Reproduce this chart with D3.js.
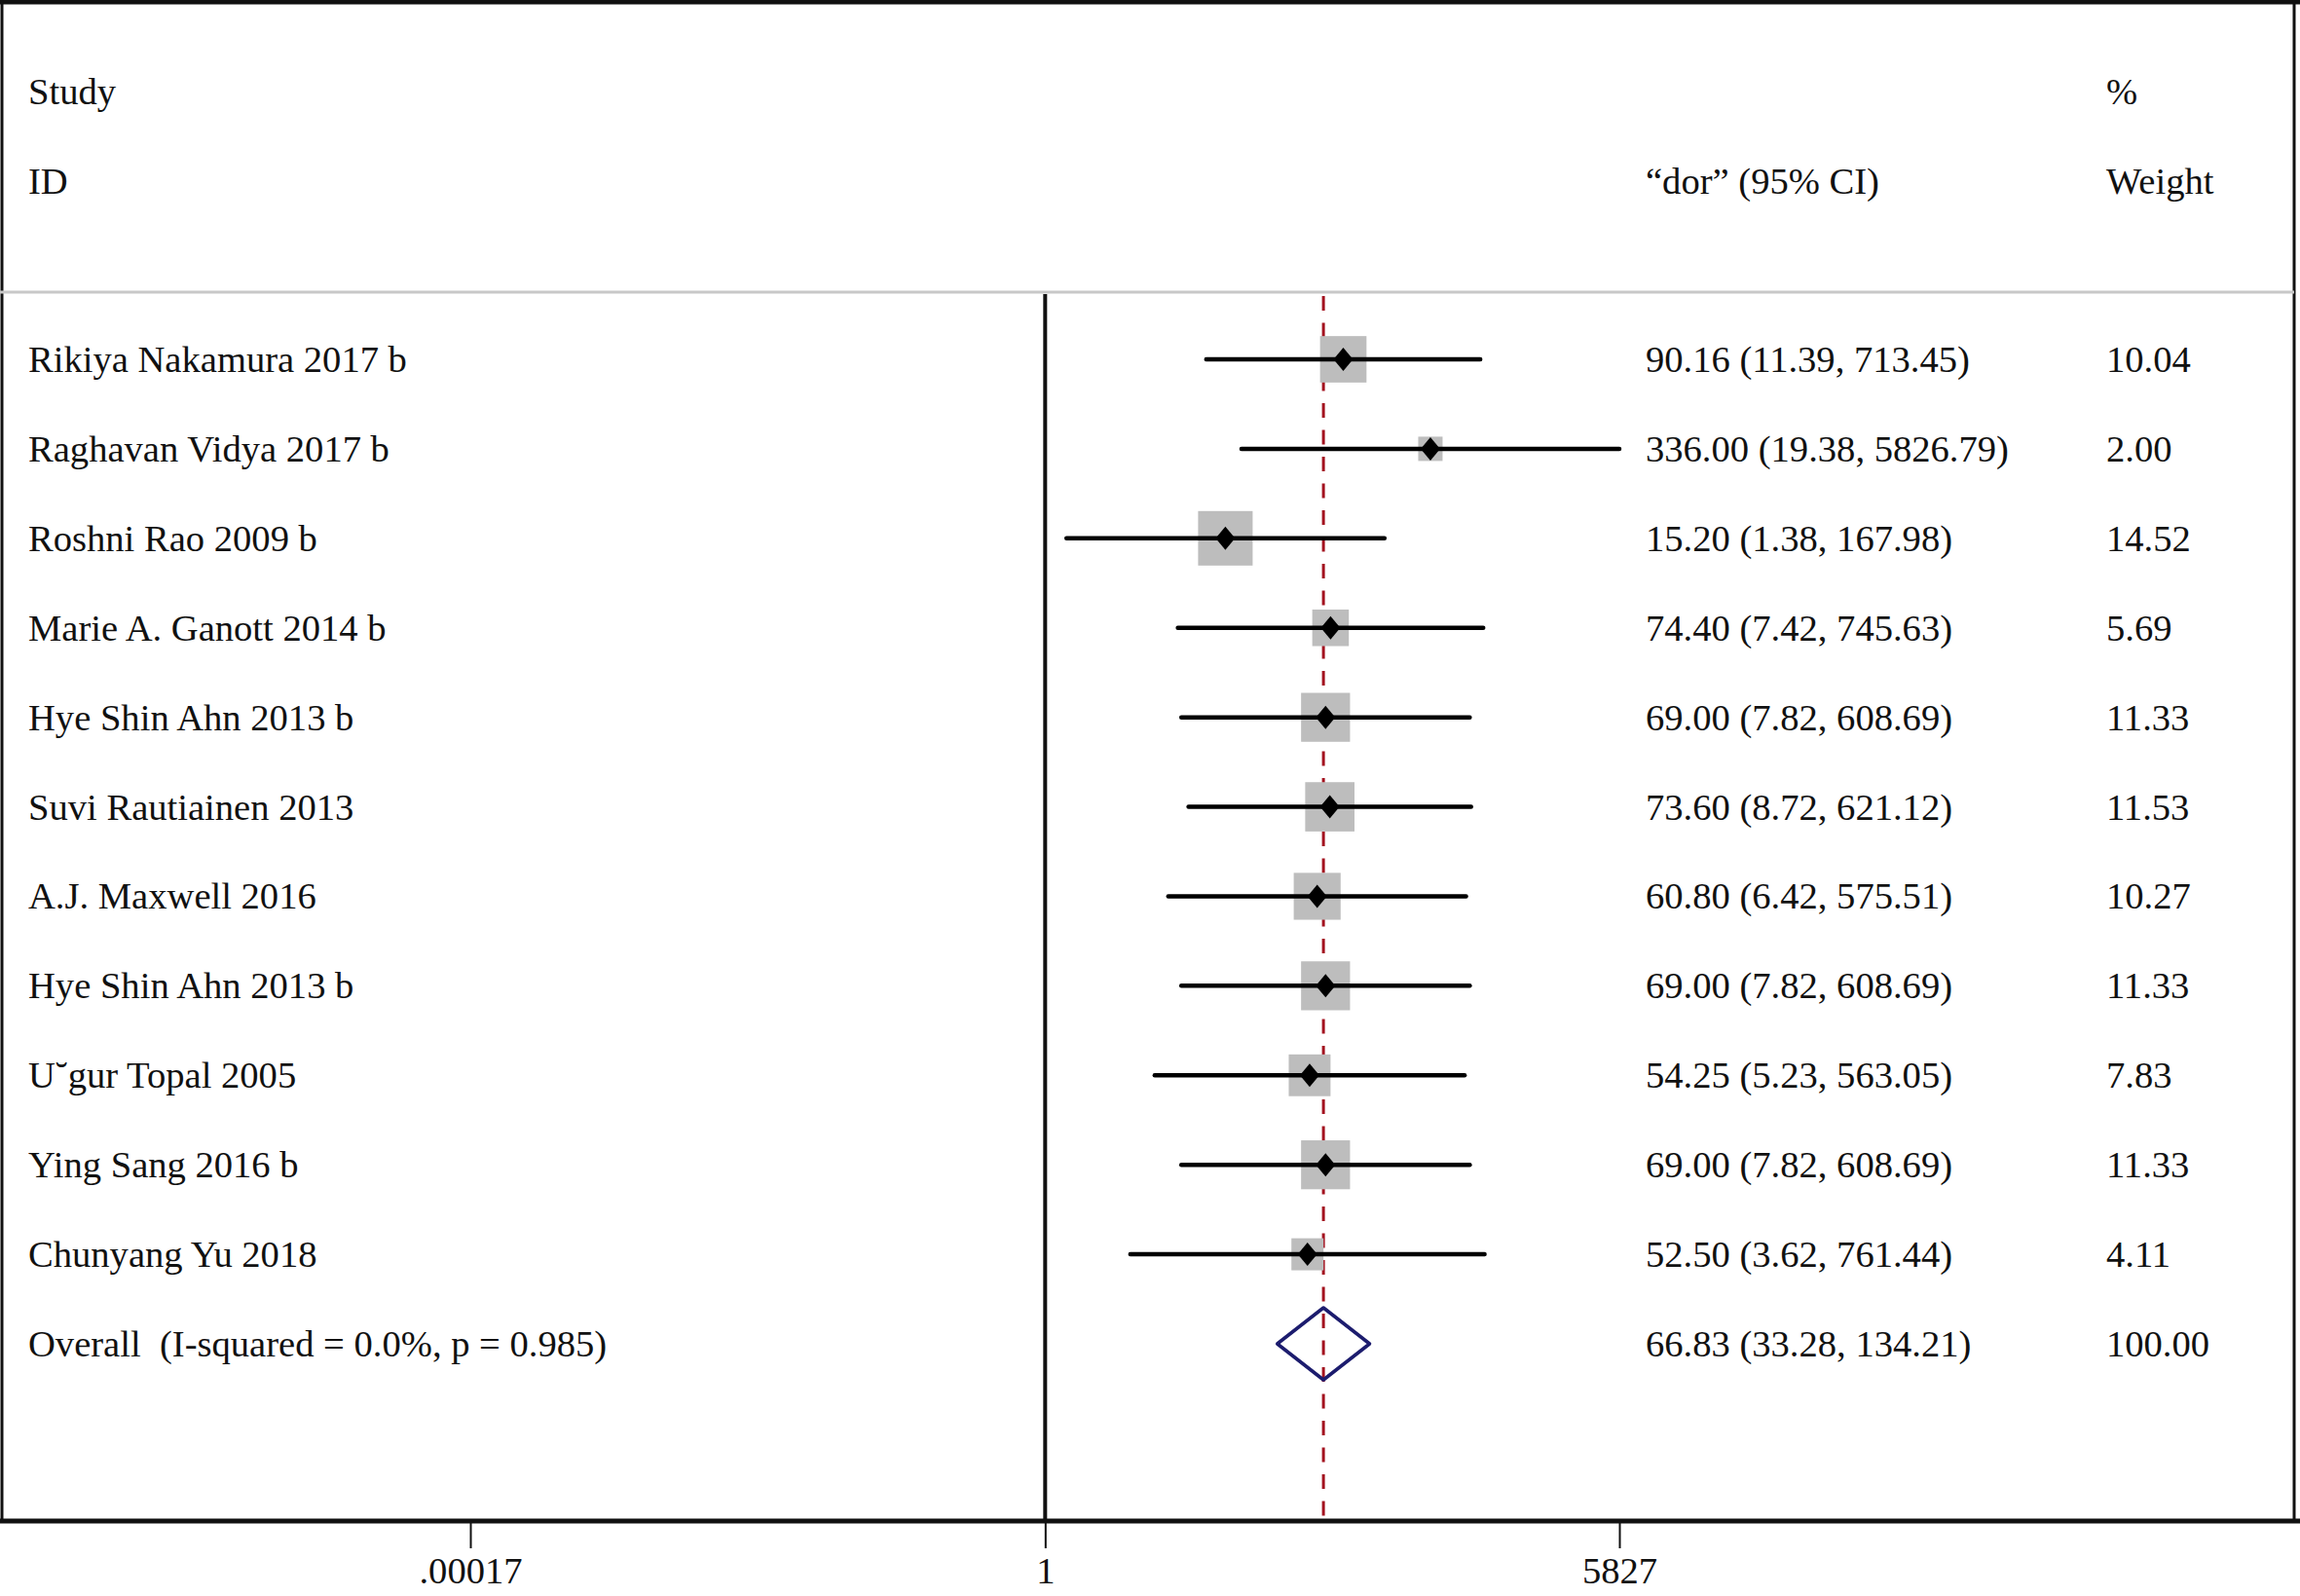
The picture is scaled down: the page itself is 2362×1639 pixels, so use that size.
<!DOCTYPE html>
<html>
<head>
<meta charset="utf-8">
<script src="https://cdn.jsdelivr.net/npm/d3@7"></script>
<style>
  body { margin: 0; background: #fff; }
  svg { display: block; }
  text { font-family: "Liberation Serif", "Times New Roman", serif; fill: #111; white-space: pre; }
</style>
</head>
<body>
<svg id="forest"></svg>
<script>
// study data
const studies = [
    "Rikiya Nakamura 2017 b",
    "Raghavan Vidya 2017 b",
    "Roshni Rao 2009 b",
    "Marie A. Ganott 2014 b",
    "Hye Shin Ahn 2013 b",
    "Suvi Rautiainen 2013",
    "A.J. Maxwell 2016",
    "Hye Shin Ahn 2013 b",
    "U\u02D8gur Topal 2005",
    "Ying Sang 2016 b",
    "Chunyang Yu 2018"
];
const dor     = [90.16, 336.00, 15.20, 74.40, 69.00, 73.60, 60.80, 69.00, 54.25, 69.00, 52.50];
const lower   = [11.39, 19.38, 1.38, 7.42, 7.82, 8.72, 6.42, 7.82, 5.23, 7.82, 3.62];
const upper   = [713.45, 5826.79, 167.98, 745.63, 608.69, 621.12, 575.51, 608.69, 563.05, 608.69, 761.44];
const weights = [10.04, 2.00, 14.52, 5.69, 11.33, 11.53, 10.27, 11.33, 7.83, 11.33, 4.11];

const overallLabel = "Overall  (I-squared = 0.0%, p = 0.985)";
const overall = {est: 66.83, lo: 33.28, hi: 134.21, weight: 100.00};

const tickValues = [0.00017, 1, 5827];
const tickLabels = [".00017", "1", "5827"];

const W = 2362, H = 1639;
const FS = 38.6;
const xText = 29, xCI = 1690, xWeight = 2163;
const headTop = 300, axisY = 1562;

const svg = d3.select("#forest").attr("width", W).attr("height", H);
svg.append("rect").attr("width", W).attr("height", H).attr("fill", "#fff");

//scales
const xScale = d3.scaleLog().domain([0.00017, 5827]).range([483, 1663]);
const yScale = d3.scaleLinear().domain([0, studies.length]).range([369, 1380]);
const boxSize = d3.scalePow().exponent(0.5).domain([2, 14.52]).range([25, 56]);

const fmt = d3.format(".2f");

//frame
svg.append("line").attr("x1", 0).attr("x2", W).attr("y1", 2).attr("y2", 2)
    .attr("stroke", "#111").attr("stroke-width", 5);
svg.append("line").attr("x1", 2).attr("x2", 2).attr("y1", 0).attr("y2", axisY)
    .attr("stroke", "#111").attr("stroke-width", 3);
svg.append("line").attr("x1", 2356).attr("x2", 2356).attr("y1", 0).attr("y2", axisY)
    .attr("stroke", "#111").attr("stroke-width", 3);
svg.append("line").attr("x1", 0).attr("x2", 2356).attr("y1", headTop).attr("y2", headTop)
    .attr("stroke", "#c8c8c8").attr("stroke-width", 3);

//header texts
const header = svg.append("g").attr("font-size", FS);
header.append("text").attr("x", xText).attr("y", 107).text("Study");
header.append("text").attr("x", xText).attr("y", 199).text("ID");
header.append("text").attr("x", xCI).attr("y", 199).text("\u201Cdor\u201D (95% CI)");
header.append("text").attr("x", xWeight).attr("y", 107).text("%");
header.append("text").attr("x", xWeight).attr("y", 199).text("Weight");

//null line and overall line
svg.append("line")
    .attr("x1", xScale(1)).attr("x2", xScale(1))
    .attr("y1", headTop + 2).attr("y2", axisY)
    .attr("stroke", "#111").attr("stroke-width", 4);
svg.append("line")
    .attr("x1", xScale(overall.est)).attr("x2", xScale(overall.est))
    .attr("y1", headTop + 4).attr("y2", axisY)
    .attr("stroke", "#a3121f").attr("stroke-width", 3)
    .attr("stroke-dasharray", "15,12.5");

//study rows
const rows = svg.append("g").selectAll("g").data(studies).join("g")
    .attr("transform", (d, i) => `translate(0,${yScale(i)})`);

rows.append("rect")
    .attr("x", (d, i) => xScale(dor[i]) - boxSize(weights[i]) / 2)
    .attr("y", (d, i) => -boxSize(weights[i]) / 2)
    .attr("width", (d, i) => boxSize(weights[i]))
    .attr("height", (d, i) => boxSize(weights[i]))
    .attr("fill", "#bdbdbd");

rows.append("line")
    .attr("x1", (d, i) => xScale(lower[i]))
    .attr("x2", (d, i) => xScale(upper[i]))
    .attr("stroke", "#000").attr("stroke-width", 4.5)
    .attr("stroke-linecap", "round");

rows.append("path")
    .attr("d", (d, i) => {
        const cx = xScale(dor[i]);
        return `M${cx - 10},0L${cx},-12L${cx + 10},0L${cx},12Z`;
    })
    .attr("fill", "#000");

rows.append("text").attr("x", xText).attr("y", 13).attr("font-size", FS).text(d => d);
rows.append("text").attr("x", xCI).attr("y", 13).attr("font-size", FS)
    .text((d, i) => `${fmt(dor[i])} (${fmt(lower[i])}, ${fmt(upper[i])})`);
rows.append("text").attr("x", xWeight).attr("y", 13).attr("font-size", FS)
    .text((d, i) => fmt(weights[i]));

//overall row
const oy = yScale(studies.length);
const ov = svg.append("g").attr("transform", `translate(0,${oy})`);
ov.append("path")
    .attr("d", `M${xScale(overall.lo)},0L${xScale(overall.est)},-37L${xScale(overall.hi)},0L${xScale(overall.est)},37Z`)
    .attr("fill", "none").attr("stroke", "#1c1c6e").attr("stroke-width", 3.5)
    .attr("stroke-linejoin", "round");
ov.append("text").attr("x", xText).attr("y", 13).attr("font-size", FS).text(overallLabel);
ov.append("text").attr("x", xCI).attr("y", 13).attr("font-size", FS)
    .text(`${fmt(overall.est)} (${fmt(overall.lo)}, ${fmt(overall.hi)})`);
ov.append("text").attr("x", xWeight).attr("y", 13).attr("font-size", FS)
    .text(fmt(overall.weight));

//x axis
const xAxis = d3.axisBottom(xScale)
    .tickValues(tickValues)
    .tickFormat((d, i) => tickLabels[i])
    .tickSize(28)
    .tickPadding(9);
const axisG = svg.append("g").attr("transform", `translate(0,${axisY})`).call(xAxis);
axisG.select(".domain").remove();
axisG.selectAll(".tick line").attr("stroke", "#111").attr("stroke-width", 2);
axisG.selectAll(".tick text")
    .attr("font-family", "Liberation Serif, serif")
    .attr("font-size", FS).attr("fill", "#111");
svg.append("line").attr("x1", 0).attr("x2", W).attr("y1", axisY).attr("y2", axisY)
    .attr("stroke", "#111").attr("stroke-width", 5);
</script>
</body>
</html>
